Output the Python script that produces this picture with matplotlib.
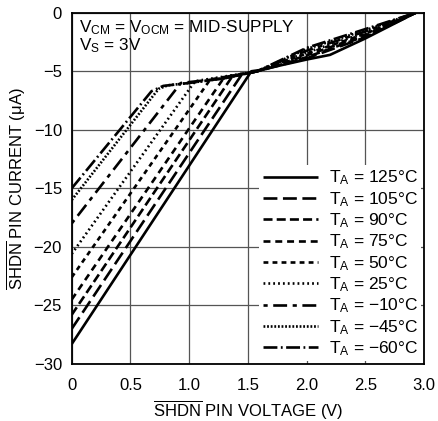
import matplotlib
matplotlib.use('Agg')
import matplotlib.pyplot as plt
from matplotlib import font_manager

names = {f.name for f in font_manager.fontManager.ttflist}
fam = 'Liberation Sans Narrow' if 'Liberation Sans Narrow' in names else 'Liberation Sans'
plt.rcParams['font.family'] = [fam, 'DejaVu Sans']
plt.rcParams['mathtext.fontset'] = 'custom'
plt.rcParams['mathtext.rm'] = fam
plt.rcParams['mathtext.it'] = fam
plt.rcParams['lines.scale_dashes'] = False

temps = ['125', '105', '90', '75', '50', '25', '\u221210', '\u221245', '\u221260']

# curve vertices (V, uA)
x_pts = [
    [0, 1.53, 1.6, 2.0, 2.2, 2.5, 2.93],
    [0, 1.45, 1.58, 2.0, 2.5, 2.93],
    [0, 1.37, 1.58, 2.0, 2.5, 2.93],
    [0, 1.30, 1.58, 2.0, 2.5, 2.93],
    [0, 1.18, 1.58, 2.0, 2.5, 2.93],
    [0, 1.05, 1.58, 2.0, 2.5, 2.93],
    [0, 0.93, 1.3, 1.58, 2.0, 2.5, 2.93],
    [0, 0.74, 0.82, 1.0, 1.3, 1.58, 2.0, 2.5, 2.93],
    [0, 0.68, 0.78, 1.0, 1.3, 1.58, 2.0, 2.5, 2.93],
]
y_pts = [
    [-28.3, -5.0, -4.9, -4.0, -3.6, -2.2, 0],
    [-27.0, -5.25, -5.0, -3.9, -2.1, 0],
    [-25.8, -5.4, -5.0, -3.8, -2.0, 0],
    [-24.5, -5.5, -5.0, -3.65, -1.9, 0],
    [-22.6, -5.7, -5.0, -3.5, -1.8, 0],
    [-20.6, -5.85, -5.0, -3.4, -1.7, 0],
    [-18.0, -6.0, -5.6, -5.0, -3.25, -1.6, 0],
    [-16.0, -6.5, -6.2, -6.0, -5.6, -5.0, -3.1, -1.5, 0],
    [-15.0, -6.7, -6.25, -6.0, -5.6, -5.0, -3.0, -1.4, 0],
]

styles = [
    (0, ()),
    (0, (10, 4)),
    (0, (6.5, 3)),
    (0, (5, 3.5)),
    (0, (3.5, 3)),
    (0, (1.3, 2.2)),
    (0, (3, 4, 10, 4)),
    (0, (1.3, 1.3)),
    (0, (10, 2.5, 1.3, 2.5)),
]

fig = plt.figure(figsize=(4.38, 4.21), dpi=100)
ax = fig.add_axes([0.1637, 0.1354, 0.8043, 0.8344])

for i, t in enumerate(temps):
    ax.plot(x_pts[i], y_pts[i], color='black', lw=1.9, linestyle=styles[i],
            label='T$_\\mathregular{A}$ = ' + t + '\u00b0C', solid_capstyle='butt',
            dash_capstyle='butt')

ax.set_xlim(0, 3.0)
ax.set_ylim(-30, 0)
ax.set_xticks([0, 0.5, 1.0, 1.5, 2.0, 2.5, 3.0])
ax.set_xticklabels(['0', '0.5', '1.0', '1.5', '2.0', '2.5', '3.0'])
ax.set_yticks([0, -5, -10, -15, -20, -25, -30])
ax.tick_params(length=0, labelsize=12)
ax.tick_params(axis='x', pad=10)
ax.tick_params(axis='y', pad=7)
ax.grid(True, color='#555555', lw=0.9)
for s in ax.spines.values():
    s.set_linewidth(1.3)

ax.set_xlabel(r'$\overline{\mathregular{SHDN}}$ PIN VOLTAGE (V)', fontsize=12, labelpad=4)
ax.set_ylabel(r'$\overline{\mathregular{SHDN}}$ PIN CURRENT ($\mathregular{\mu}$A)', fontsize=12, labelpad=4)

ax.text(0.022, 0.985, 'V$_\\mathregular{CM}$ = V$_\\mathregular{OCM}$ = MID-SUPPLY\nV$_\\mathregular{S}$ = 3V',
        transform=ax.transAxes, fontsize=12.3, va='top', ha='left', linespacing=1.0)

leg = ax.legend(loc='lower right', fontsize=12.5, frameon=True, handlelength=3.2,
                labelspacing=0.15, borderaxespad=0.15, handletextpad=0.6,
                borderpad=0.2)
leg.get_frame().set_edgecolor('none')
leg.get_frame().set_facecolor('white')
leg.get_frame().set_alpha(1)

fig.savefig('out.png', dpi=100)
